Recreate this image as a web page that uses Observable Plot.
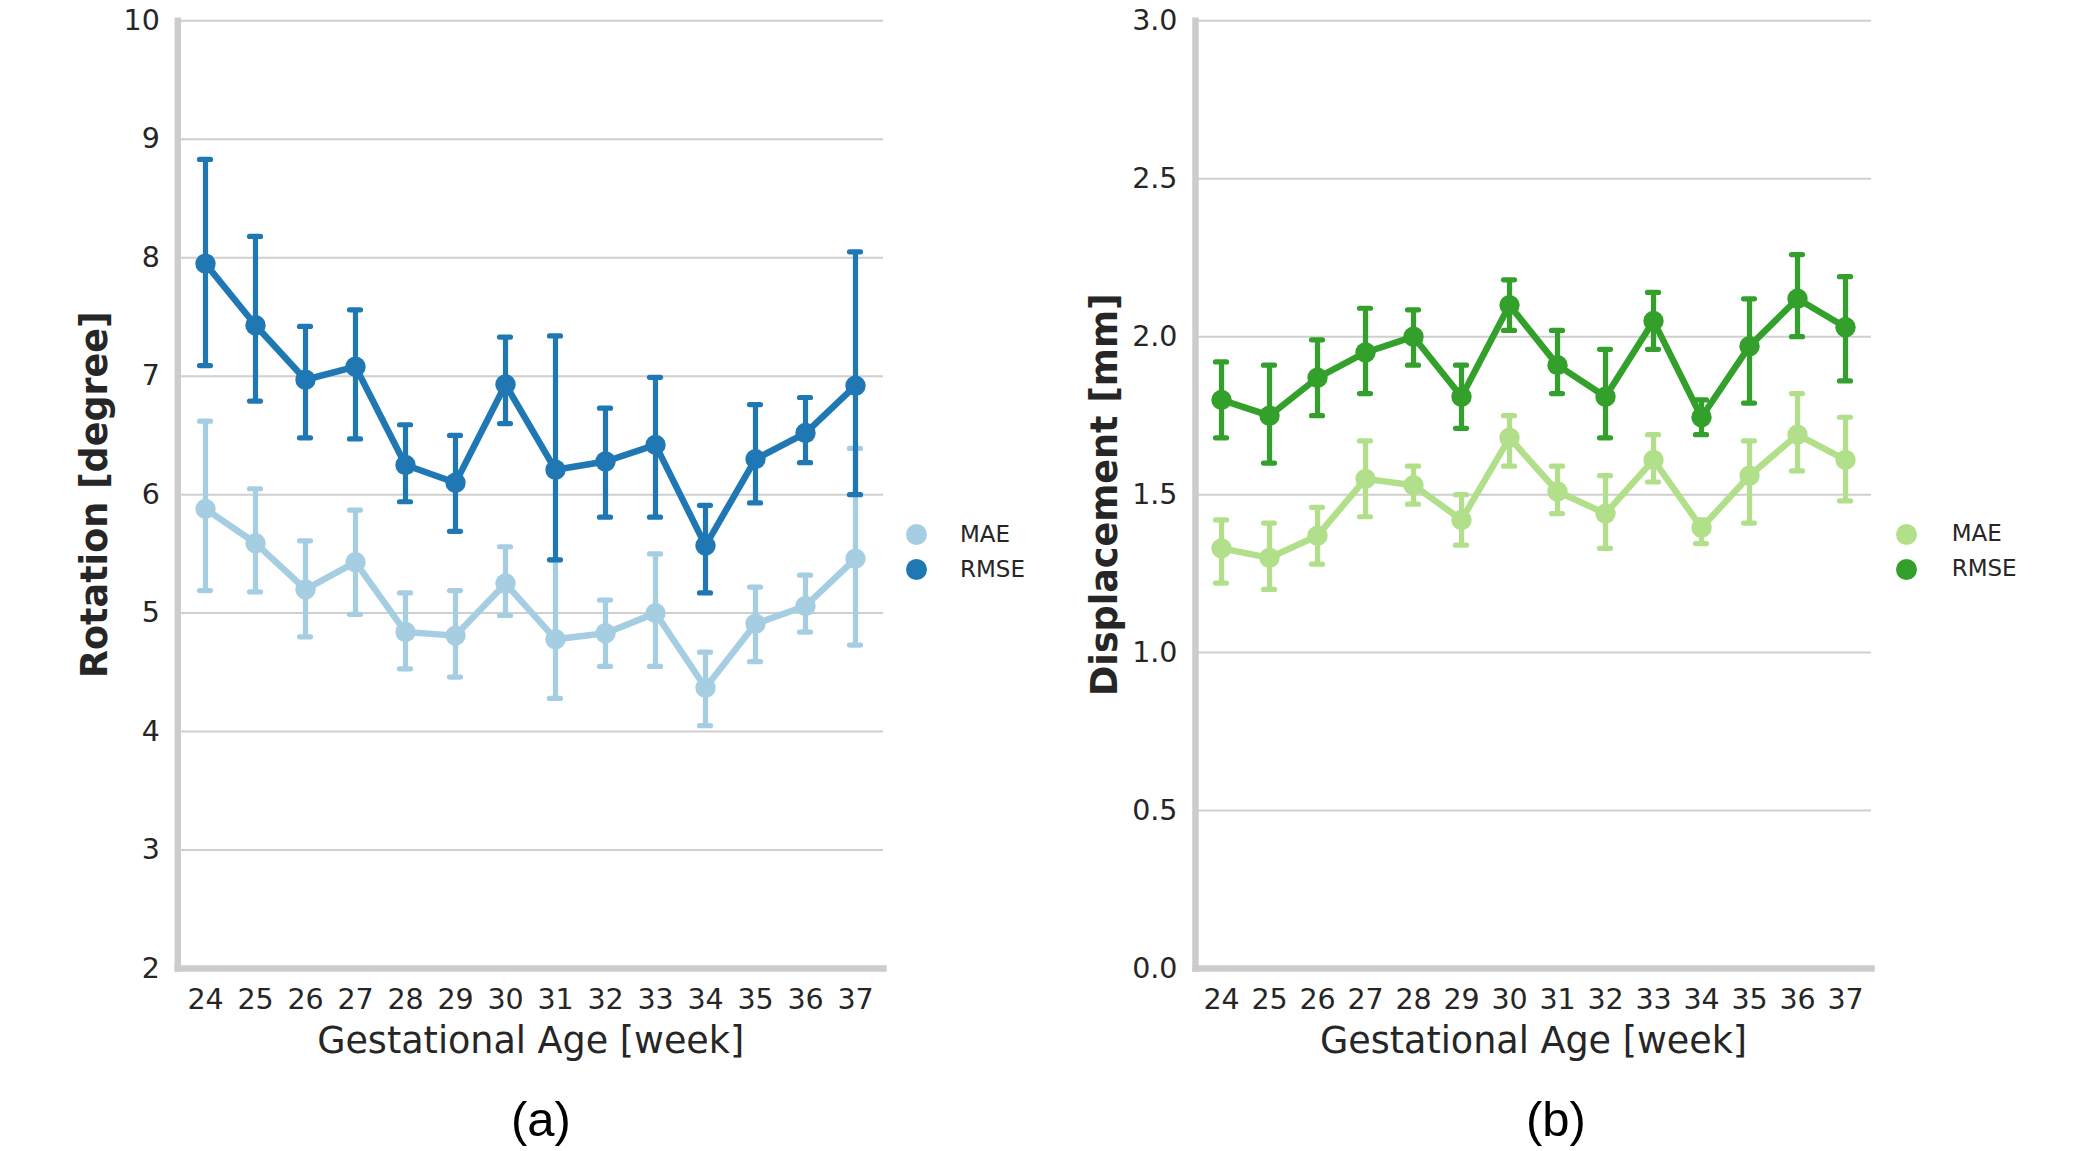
<!DOCTYPE html>
<html>
<head>
<meta charset="utf-8">
<script src="https://cdn.jsdelivr.net/npm/d3@7"></script>
<script src="https://cdn.jsdelivr.net/npm/@observablehq/plot@0.6"></script>
<style>
  body { margin: 0; background: #fff; }
  #wrap { position: relative; width: 2089px; height: 1151px; background: #fff; overflow: hidden; }
  .panel { position: absolute; top: 0; }
  .legtxt { position: absolute; font-family: "DejaVu Sans"; font-size: 23px; color: #262626; line-height: 1; transform: translateY(-50%); white-space: nowrap; }
  .legdot { position: absolute; border-radius: 50%; }
  .cap { position: absolute; font-family: "Liberation Sans", Arial, sans-serif; font-size: 49px; color: #000; transform: translate(-50%, -50%); line-height: 1; }
</style>
</head>
<body>
<div id="wrap"></div>
<script>
// ---------- data ----------
const weeks = [24, 25, 26, 27, 28, 29, 30, 31, 32, 33, 34, 35, 36, 37];
const seriesNames = ["MAE", "RMSE"];

// (a) Rotation [degree]
const rotMAE     = [5.88, 5.59, 5.20, 5.43, 4.84, 4.81, 5.25, 4.78, 4.83, 5.00, 4.37, 4.91, 5.06, 5.46];
const rotMAELo   = [5.19, 5.18, 4.80, 4.99, 4.53, 4.46, 4.98, 4.28, 4.55, 4.55, 4.05, 4.59, 4.84, 4.73];
const rotMAEHi   = [6.62, 6.05, 5.61, 5.87, 5.17, 5.19, 5.56, 5.45, 5.11, 5.50, 4.67, 5.22, 5.32, 6.39];
const rotRMSE    = [7.95, 7.43, 6.97, 7.08, 6.25, 6.10, 6.93, 6.21, 6.28, 6.42, 5.57, 6.30, 6.52, 6.92];
const rotRMSELo  = [7.09, 6.79, 6.48, 6.47, 5.94, 5.69, 6.60, 5.45, 5.81, 5.81, 5.17, 5.93, 6.27, 6.00];
const rotRMSEHi  = [8.83, 8.18, 7.42, 7.56, 6.59, 6.50, 7.33, 7.34, 6.73, 6.99, 5.91, 6.76, 6.82, 8.05];
const rotTicks   = [2, 3, 4, 5, 6, 7, 8, 9, 10];

// (b) Displacement [mm]
const dispMAE    = [1.33, 1.30, 1.37, 1.55, 1.53, 1.42, 1.68, 1.51, 1.44, 1.61, 1.395, 1.56, 1.69, 1.61];
const dispMAELo  = [1.22, 1.20, 1.28, 1.43, 1.47, 1.34, 1.59, 1.44, 1.33, 1.54, 1.345, 1.41, 1.575, 1.48];
const dispMAEHi  = [1.42, 1.41, 1.46, 1.67, 1.59, 1.50, 1.75, 1.59, 1.56, 1.69, 1.42, 1.67, 1.82, 1.745];
const dispRMSE   = [1.80, 1.75, 1.87, 1.95, 2.00, 1.81, 2.10, 1.91, 1.81, 2.05, 1.745, 1.97, 2.12, 2.03];
const dispRMSELo = [1.68, 1.60, 1.75, 1.82, 1.91, 1.71, 2.02, 1.82, 1.68, 1.96, 1.69, 1.79, 2.00, 1.86];
const dispRMSEHi = [1.92, 1.91, 1.99, 2.09, 2.085, 1.91, 2.18, 2.02, 1.96, 2.14, 1.80, 2.12, 2.26, 2.19];
const dispTicks  = [0, 0.5, 1.0, 1.5, 2.0, 2.5, 3.0];

const blueColors  = ["#a6cee3", "#1f78b4"];
const greenColors = ["#b2df8a", "#33a02c"];

// ---------- helpers ----------
const TEXT = "#262626";
function table(vals, lo, hi) {
  return weeks.map((w, i) => ({week: w, v: vals[i], lo: lo[i], hi: hi[i]}));
}

function seriesMarks(data, color) {
  return [
    Plot.line(data, {x: "week", y: "v", stroke: color, strokeWidth: 6.5, strokeLinejoin: "round"}),
    Plot.ruleX(data, {x: "week", y1: "lo", y2: "hi", stroke: color, strokeWidth: 5.2}),
    Plot.ruleY(data, {y: "lo", x1: "week", x2: "week", insetLeft: -5.5, insetRight: -5.5, stroke: color, strokeWidth: 5.2, strokeLinecap: "round"}),
    Plot.ruleY(data, {y: "hi", x1: "week", x2: "week", insetLeft: -5.5, insetRight: -5.5, stroke: color, strokeWidth: 5.2, strokeLinecap: "round"}),
    Plot.dot(data, {x: "week", y: "v", r: 10.2, fill: color, stroke: "none"})
  ];
}

function panel({left, width, mLeft, mRight, domain, ticks, fmt, title, titleDx, datasets, colors}) {
  const p = Plot.plot({
    width, height: 1151,
    marginLeft: mLeft, marginRight: mRight, marginTop: 20.3, marginBottom: 183,
    style: {fontFamily: "DejaVu Sans", color: TEXT, background: "transparent", overflow: "visible"},
    x: {type: "point", domain: weeks, padding: 0.5, align: 0.5},
    y: {domain, ticks},
    marks: [
      Plot.gridY(ticks, {stroke: "#cfcfcf", strokeOpacity: 1, strokeWidth: 2}),
      Plot.axisY(ticks, {tickSize: 0, tickPadding: 18, fontSize: 28.5, tickFormat: fmt, label: null, fill: TEXT}),
      Plot.axisX({tickSize: 0, tickPadding: 20, fontSize: 28.5, tickFormat: d => String(d), label: null, fill: TEXT}),
      ...seriesMarks(datasets[0], colors[0]),
      ...seriesMarks(datasets[1], colors[1]),
      Plot.frame({anchor: "left", stroke: "#cccccc", strokeWidth: 6.5, strokeLinecap: "square"}),
      Plot.frame({anchor: "bottom", stroke: "#cccccc", strokeWidth: 6.5, strokeLinecap: "square"}),
      Plot.text([title], {text: d => d, frameAnchor: "left", textAnchor: "middle", rotate: -90, dx: titleDx, lineAnchor: "bottom", fontSize: 36.5, fontWeight: "bold", fill: TEXT}),
      Plot.text(["Gestational Age [week]"], {text: d => d, frameAnchor: "bottom", textAnchor: "middle", lineAnchor: "bottom", dy: 84, fontSize: 36.5, fill: TEXT})
    ]
  });
  p.classList.add("panel");
  p.style.left = left + "px";
  return p;
}

const wrap = document.getElementById("wrap");

wrap.appendChild(panel({
  left: 0, width: 900, mLeft: 177.3, mRight: 17,
  domain: [2, 10], ticks: rotTicks, fmt: d => String(d),
  title: "Rotation [degree]", titleDx: -70.6,
  datasets: [table(rotMAE, rotMAELo, rotMAEHi), table(rotRMSE, rotRMSELo, rotRMSEHi)],
  colors: blueColors
}));

wrap.appendChild(panel({
  left: 1000, width: 890, mLeft: 195, mRight: 19,
  domain: [0, 3], ticks: dispTicks, fmt: d3.format(".1f"),
  title: "Displacement [mm]", titleDx: -79,
  datasets: [table(dispMAE, dispMAELo, dispMAEHi), table(dispRMSE, dispRMSELo, dispRMSEHi)],
  colors: greenColors
}));

// ---------- legends ----------
function legend(dotX, textX, ys, colors) {
  seriesNames.forEach((name, i) => {
    const r = 10.5;
    const dot = document.createElement("div");
    dot.className = "legdot";
    Object.assign(dot.style, {left: (dotX - r) + "px", top: (ys[i] - r) + "px", width: 2 * r + "px", height: 2 * r + "px", background: colors[i]});
    wrap.appendChild(dot);
    const t = document.createElement("div");
    t.className = "legtxt";
    t.textContent = name;
    Object.assign(t.style, {left: textX + "px", top: (ys[i] - 1) + "px"});
    wrap.appendChild(t);
  });
}
legend(916.7, 960, [534.5, 569.5], blueColors);
legend(1906.7, 1951.7, [534.3, 569.3], greenColors);

// ---------- captions ----------
[["(a)", 541], ["(b)", 1556]].forEach(([txt, x]) => {
  const c = document.createElement("div");
  c.className = "cap";
  c.textContent = txt;
  c.style.left = x + "px";
  c.style.top = "1119px";
  wrap.appendChild(c);
});
</script>
</body>
</html>
